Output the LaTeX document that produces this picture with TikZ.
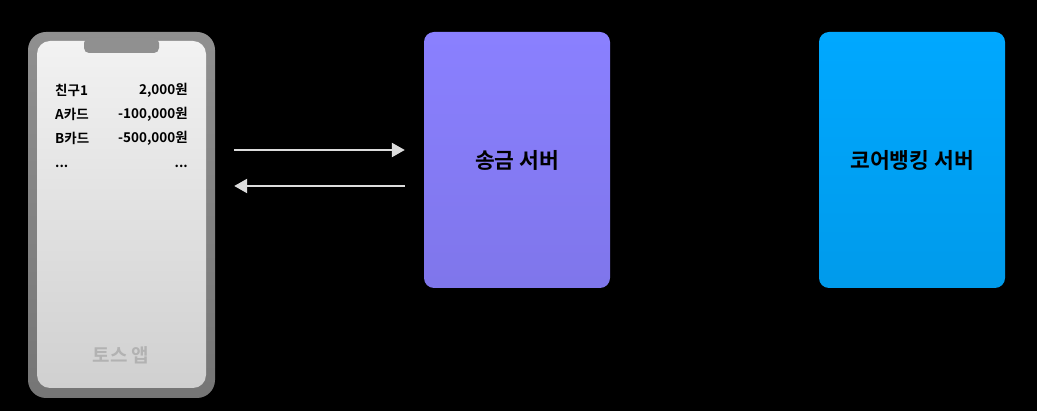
\documentclass[tikz,border=0pt]{standalone}
\usepackage{fontspec}
\newfontfamily\krfont{Noto Sans CJK KR}[BoldFont={Noto Sans CJK KR Bold}]
\usetikzlibrary{arrows.meta,positioning,calc}

\definecolor{phonegray}{HTML}{8A8A8A}
\definecolor{screentop}{HTML}{F2F2F2}
\definecolor{screenbot}{HTML}{D0D0D0}
\definecolor{sendviolet}{HTML}{8A80FF}
\definecolor{corecyan}{HTML}{00A8FF}
\definecolor{arrowgray}{HTML}{DCDCDC}

\begin{document}
\begin{tikzpicture}[x=1pt,y=-1pt,
  server/.style={rounded corners=10pt, minimum width=186pt, minimum height=256pt,
    inner sep=0pt, font=\krfont\bfseries\fontsize{21.5}{25}\selectfont},
  flow/.style={-{Triangle[length=13pt,width=14pt]}, line width=2.4pt, arrowgray},
  row/.style={font=\krfont\bfseries\fontsize{13.5}{16}\selectfont, inner sep=0pt}]
% Background
\fill[black] (0,0) rectangle (1037,411);
\useasboundingbox (0,0) rectangle (1037,411);
% Phone body and screen
\node[rounded corners=18pt, minimum width=187pt, minimum height=366pt, inner sep=0pt,
  top color=phonegray!95!white, bottom color=phonegray!85!black] (phone) at (121.5,215) {};
\node[rounded corners=13pt, minimum width=169pt, minimum height=347pt, inner sep=0pt,
  top color=screentop, middle color=screentop!97!black, bottom color=screenbot] (screen) at (121.5,214.5) {};
\fill[phonegray!95!white, rounded corners=5pt] (84,38) -- (84,53) -- (159,53) -- (159,38) -- cycle;
% Balance list
\foreach \y/\name/\amount in {90/친구1/{2,000원},114/A카드/{-100,000원},138/B카드/{-500,000원}} {
  \node[row, anchor=west] at (55,\y) {\name};
  \node[row, anchor=east] at (188,\y) {\amount};
}
\node[row, anchor=west] at (55,166) {...};
\node[row, anchor=east] at (188,166) {...};
\node[font=\krfont\bfseries\fontsize{19}{22}\selectfont, text=black!30] (app) at (121,355) {토스 앱};
% Servers
\node[server, top color=sendviolet, bottom color=sendviolet!92!black] (send) at (517,160) {송금 서버};
\node[server, top color=corecyan, bottom color=corecyan!92!black] (core) at (912,160) {코어뱅킹 서버};
% Request and response
\draw[flow, shorten <=19pt, shorten >=19pt] ([yshift=10pt]send.west -| phone.east) -- ([yshift=10pt]send.west);
\draw[flow, shorten <=19pt, shorten >=19pt] ([yshift=-26pt]send.west) -- ([yshift=-26pt]send.west -| phone.east);
\end{tikzpicture}
\end{document}
